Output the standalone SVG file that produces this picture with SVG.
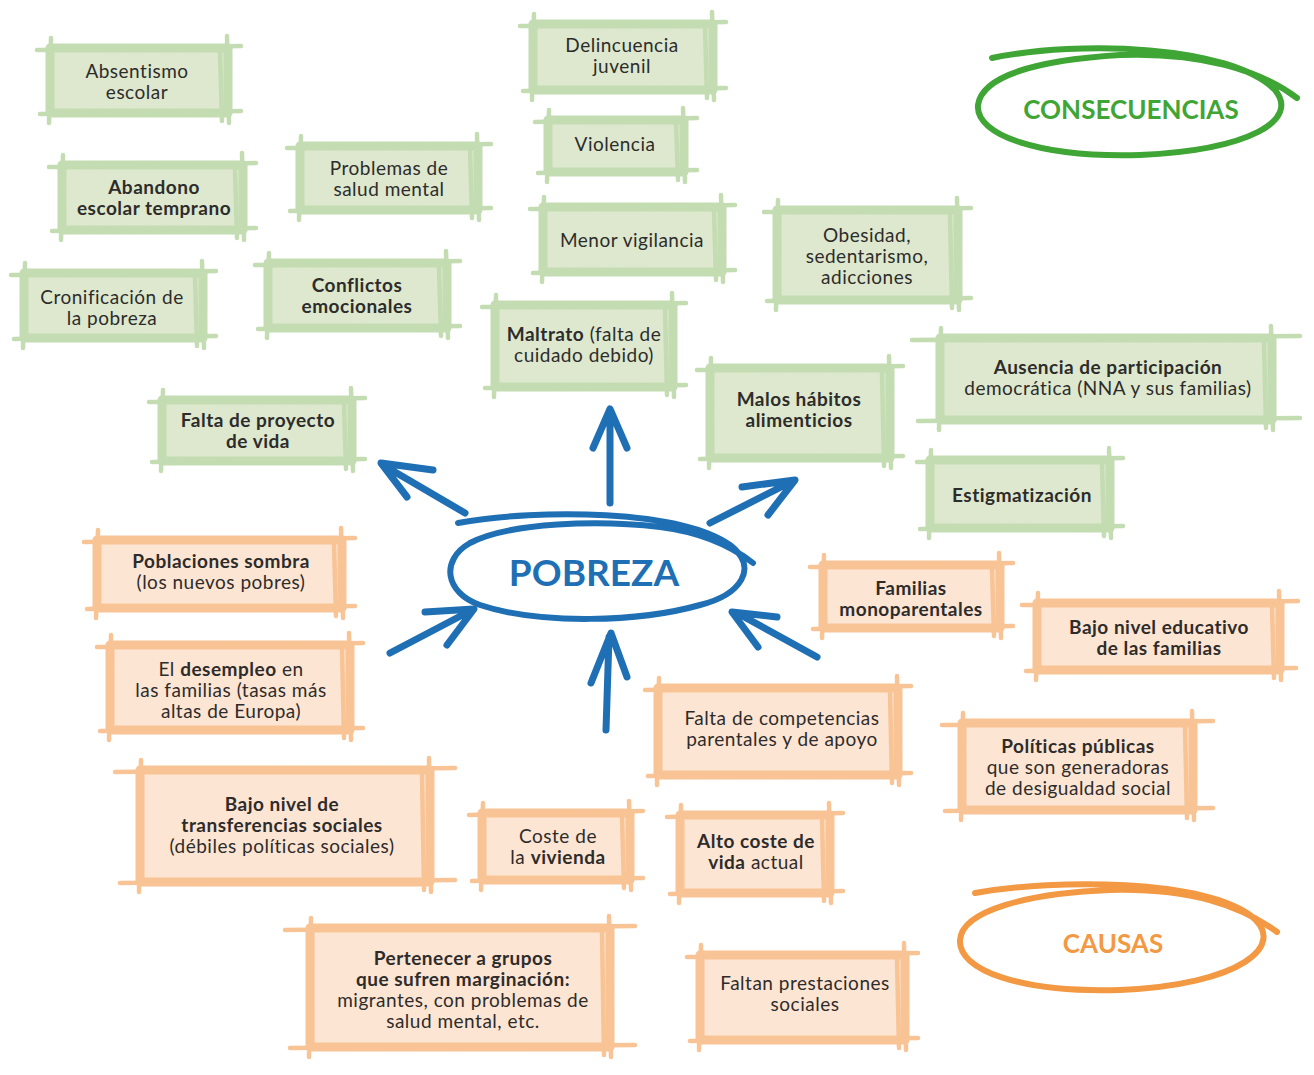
<svg xmlns="http://www.w3.org/2000/svg" width="1314" height="1075" viewBox="0 0 1314 1075">
<style>
.gf{fill:#dde8cf;stroke:#c4dcb1;stroke-width:9;stroke-linejoin:round}
.gl{fill:none;stroke:#c4dcb1;stroke-width:4.5;stroke-linecap:round}
.of{fill:#fde5d3;stroke:#f9c495;stroke-width:9;stroke-linejoin:round}
.ol{fill:none;stroke:#f9c495;stroke-width:4.5;stroke-linecap:round}
.t{font-family:Lato,"Noto Sans",sans-serif;font-size:19px;letter-spacing:0.5px;fill:#2d2c2b;text-anchor:middle}
.b{font-weight:700}
.lab{font-family:Lato,"Noto Sans",sans-serif;font-weight:700;text-anchor:middle}
.arr{fill:none;stroke:#1f6fb5;stroke-width:7;stroke-linecap:round;stroke-linejoin:round}
</style>
<rect width="1314" height="1075" fill="#ffffff"/>

<!-- consequences -->
<g id="absentismo"><rect class="gf" x="50" y="48" width="178" height="65"/><path class="gl" d="M37 50 L241 46 M40 114 L241 111 M51 38 L49 123 M227 36 L229 123 M220 52 L222 121"/><text class="t"><tspan x="137" y="78">Absentismo</tspan><tspan x="137" y="99">escolar</tspan></text></g>
<g id="abandono"><rect class="gf" x="62" y="165" width="181" height="65"/><path class="gl" d="M49 167 L256 163 M52 231 L256 228 M63 155 L61 240 M242 153 L244 240 M235 169 L237 238"/><text class="t b"><tspan x="154" y="194">Abandono</tspan><tspan x="154" y="215">escolar temprano</tspan></text></g>
<g id="problemas"><rect class="gf" x="300" y="146" width="178" height="64"/><path class="gl" d="M287 148 L491 144 M290 211 L491 208 M301 136 L299 220 M477 134 L479 220 M470 150 L472 218"/><text class="t"><tspan x="389" y="175">Problemas de</tspan><tspan x="389" y="196">salud mental</tspan></text></g>
<g id="cronificacion"><rect class="gf" x="24" y="273" width="179" height="65"/><path class="gl" d="M11 275 L216 271 M14 339 L216 336 M25 263 L23 348 M202 261 L204 348 M195 277 L197 346"/><text class="t"><tspan x="112" y="304">Cronificación de</tspan><tspan x="112" y="325">la pobreza</tspan></text></g>
<g id="conflictos"><rect class="gf" x="268" y="263" width="179" height="65"/><path class="gl" d="M255 265 L460 261 M258 329 L460 326 M269 253 L267 338 M446 251 L448 338 M439 267 L441 336"/><text class="t b"><tspan x="357" y="292">Conflictos</tspan><tspan x="357" y="313">emocionales</tspan></text></g>
<g id="proyecto"><rect class="gf" x="162" y="400" width="190" height="61"/><path class="gl" d="M149 402 L365 398 M152 462 L365 459 M163 390 L161 471 M351 388 L353 471 M344 404 L346 469"/><text class="t b"><tspan x="258" y="427">Falta de proyecto</tspan><tspan x="258" y="448">de vida</tspan></text></g>
<g id="delincuencia"><rect class="gf" x="533" y="24" width="180" height="66"/><path class="gl" d="M520 26 L726 22 M523 91 L726 88 M534 14 L532 100 M712 12 L714 100 M705 28 L707 98"/><text class="t"><tspan x="622" y="52">Delincuencia</tspan><tspan x="622" y="73">juvenil</tspan></text></g>
<g id="violencia"><rect class="gf" x="548" y="120" width="136" height="52"/><path class="gl" d="M535 122 L697 118 M538 173 L697 170 M549 110 L547 182 M683 108 L685 182 M676 124 L678 180"/><text class="t" x="615" y="151">Violencia</text></g>
<g id="vigilancia"><rect class="gf" x="543" y="207" width="179" height="65"/><path class="gl" d="M530 209 L735 205 M533 273 L735 270 M544 197 L542 282 M721 195 L723 282 M714 211 L716 280"/><text class="t" x="632" y="247">Menor vigilancia</text></g>
<g id="maltrato"><rect class="gf" x="495" y="305" width="178" height="82"/><path class="gl" d="M482 307 L686 303 M485 388 L686 385 M496 295 L494 397 M672 293 L674 397 M665 309 L667 395"/><text class="t"><tspan x="584" y="341"><tspan class="b">Maltrato</tspan> (falta de</tspan><tspan x="584" y="362">cuidado debido)</tspan></text></g>
<g id="obesidad"><rect class="gf" x="777" y="210" width="181" height="90"/><path class="gl" d="M764 212 L971 208 M767 301 L971 298 M778 200 L776 310 M957 198 L959 310 M950 214 L952 308"/><text class="t"><tspan x="867" y="242">Obesidad,</tspan><tspan x="867" y="263">sedentarismo,</tspan><tspan x="867" y="284">adicciones</tspan></text></g>
<g id="malos-habitos"><rect class="gf" x="710" y="368" width="180" height="90"/><path class="gl" d="M697 370 L903 366 M700 459 L903 456 M711 358 L709 468 M889 356 L891 468 M882 372 L884 466"/><text class="t b"><tspan x="799" y="406">Malos hábitos</tspan><tspan x="799" y="427">alimenticios</tspan></text></g>
<g id="ausencia"><rect class="gf" x="940" y="338" width="332" height="82"/><path class="gl" d="M912 340 L1300 336 M918 421 L1300 418 M941 328 L939 430 M1271 326 L1273 430 M1264 342 L1266 428"/><text class="t"><tspan x="1108" y="374" class="b">Ausencia de participación</tspan><tspan x="1108" y="395">democrática (NNA y sus familias)</tspan></text></g>
<g id="estigmatizacion"><rect class="gf" x="930" y="460" width="180" height="68"/><path class="gl" d="M917 462 L1123 458 M920 529 L1123 526 M931 450 L929 538 M1109 448 L1111 538 M1102 464 L1104 536"/><text class="t b" x="1022" y="502">Estigmatización</text></g>

<!-- causes -->
<g id="poblaciones"><rect class="of" x="97" y="540" width="245" height="68"/><path class="ol" d="M84 542 L355 538 M87 609 L355 606 M98 530 L96 618 M341 528 L343 618 M334 544 L336 616"/><text class="t"><tspan x="221" y="568" class="b">Poblaciones sombra</tspan><tspan x="221" y="589">(los nuevos pobres)</tspan></text></g>
<g id="desempleo"><rect class="of" x="110" y="645" width="240" height="85"/><path class="ol" d="M97 647 L363 643 M100 731 L363 728 M111 635 L109 740 M349 633 L351 740 M342 649 L344 738"/><text class="t"><tspan x="231" y="676">El <tspan class="b">desempleo</tspan> en</tspan><tspan x="231" y="697">las familias (tasas más</tspan><tspan x="231" y="718">altas de Europa)</tspan></text></g>
<g id="transferencias"><rect class="of" x="140" y="770" width="290" height="112"/><path class="ol" d="M115 772 L455 768 M120 883 L455 880 M141 760 L139 892 M429 758 L431 892 M422 774 L424 890"/><text class="t"><tspan x="282" y="811" class="b">Bajo nivel de</tspan><tspan x="282" y="832" class="b">transferencias sociales</tspan><tspan x="282" y="853">(débiles políticas sociales)</tspan></text></g>
<g id="marginacion"><rect class="of" x="310" y="928" width="300" height="119"/><path class="ol" d="M285 930 L635 926 M290 1048 L635 1045 M311 918 L309 1057 M609 916 L611 1057 M602 932 L604 1055"/><text class="t"><tspan x="463" y="965" class="b">Pertenecer a grupos</tspan><tspan x="463" y="986" class="b">que sufren marginación:</tspan><tspan x="463" y="1007">migrantes, con problemas de</tspan><tspan x="463" y="1028">salud mental, etc.</tspan></text></g>
<g id="vivienda"><rect class="of" x="482" y="813" width="148" height="67"/><path class="ol" d="M469 815 L643 811 M472 881 L643 878 M483 803 L481 890 M629 801 L631 890 M622 817 L624 888"/><text class="t"><tspan x="558" y="843">Coste de</tspan><tspan x="558" y="864">la <tspan class="b">vivienda</tspan></tspan></text></g>
<g id="coste-vida"><rect class="of" x="680" y="815" width="150" height="78"/><path class="ol" d="M667 817 L843 813 M670 894 L843 891 M681 805 L679 903 M829 803 L831 903 M822 819 L824 901"/><text class="t"><tspan x="756" y="848" class="b">Alto coste de</tspan><tspan x="756" y="869"><tspan class="b">vida</tspan> actual</tspan></text></g>
<g id="competencias"><rect class="of" x="658" y="688" width="240" height="87"/><path class="ol" d="M645 690 L911 686 M648 776 L911 773 M659 678 L657 785 M897 676 L899 785 M890 692 L892 783"/><text class="t"><tspan x="782" y="725">Falta de competencias</tspan><tspan x="782" y="746">parentales y de apoyo</tspan></text></g>
<g id="monoparentales"><rect class="of" x="823" y="565" width="177" height="63"/><path class="ol" d="M810 567 L1013 563 M813 629 L1013 626 M824 555 L822 638 M999 553 L1001 638 M992 569 L994 636"/><text class="t b"><tspan x="911" y="595">Familias</tspan><tspan x="911" y="616">monoparentales</tspan></text></g>
<g id="nivel-educativo"><rect class="of" x="1037" y="603" width="243" height="67"/><path class="ol" d="M1022 605 L1298 601 M1026 671 L1296 668 M1038 593 L1036 680 M1279 591 L1281 680 M1272 607 L1274 678"/><text class="t b"><tspan x="1159" y="634">Bajo nivel educativo</tspan><tspan x="1159" y="655">de las familias</tspan></text></g>
<g id="politicas"><rect class="of" x="962" y="723" width="231" height="87"/><path class="ol" d="M942 725 L1213 721 M945 811 L1213 808 M963 713 L961 820 M1192 711 L1194 820 M1185 727 L1187 818"/><text class="t"><tspan x="1078" y="753" class="b">Políticas públicas</tspan><tspan x="1078" y="774">que son generadoras</tspan><tspan x="1078" y="795">de desigualdad social</tspan></text></g>
<g id="prestaciones"><rect class="of" x="700" y="955" width="205" height="85"/><path class="ol" d="M687 957 L918 953 M690 1041 L918 1038 M701 945 L699 1050 M904 943 L906 1050 M897 959 L899 1048"/><text class="t"><tspan x="805" y="990">Faltan prestaciones</tspan><tspan x="805" y="1011">sociales</tspan></text></g>

<!-- labels -->
<g id="consecuencias"><path d="M992 58 C1080 40 1230 45 1275 90 C1300 120 1250 150 1140 155 C1040 158 975 135 978 105 C982 75 1040 60 1120 55 C1200 52 1260 70 1297 98" fill="none" stroke="#3fa535" stroke-width="6" stroke-linecap="round"/><text class="lab" x="1131" y="119" font-size="26" fill="#3fa535">CONSECUENCIAS</text></g>
<g id="causas"><path d="M975 893 C1060 878 1200 880 1250 915 C1290 945 1240 985 1120 990 C1020 993 958 970 960 940 C962 910 1030 893 1110 890 C1190 888 1240 905 1277 932" fill="none" stroke="#f39843" stroke-width="6" stroke-linecap="round"/><text class="lab" x="1113" y="953" font-size="26" fill="#f39843">CAUSAS</text></g>
<g id="pobreza"><path d="M458 523 C540 508 680 510 730 545 C760 568 740 595 700 605 C640 622 540 625 480 605 C445 593 440 560 470 543 C510 522 600 520 660 527 C700 532 730 545 753 563" fill="none" stroke="#1f6fb5" stroke-width="6" stroke-linecap="round"/><text class="lab" x="594" y="586" font-size="37" fill="#1f6fb5">POBREZA</text></g>

<!-- connectors -->
<g id="connectors">
<path class="arr" d="M610 503 L610 412 M593 448 L610 409 L627 448"/>
<path class="arr" d="M710 523 L793 481 M742 487 L795 480 L768 515"/>
<path class="arr" d="M465 513 L383 465 M433 470 L381 463 L407 497"/>
<path class="arr" d="M606 730 L609 637 M591 683 L611 633 L627 677"/>
<path class="arr" d="M390 653 L472 610 M425 612 L474 609 L447 645"/>
<path class="arr" d="M817 657 L737 613 M777 617 L732 612 L758 647"/>
</g>
</svg>
